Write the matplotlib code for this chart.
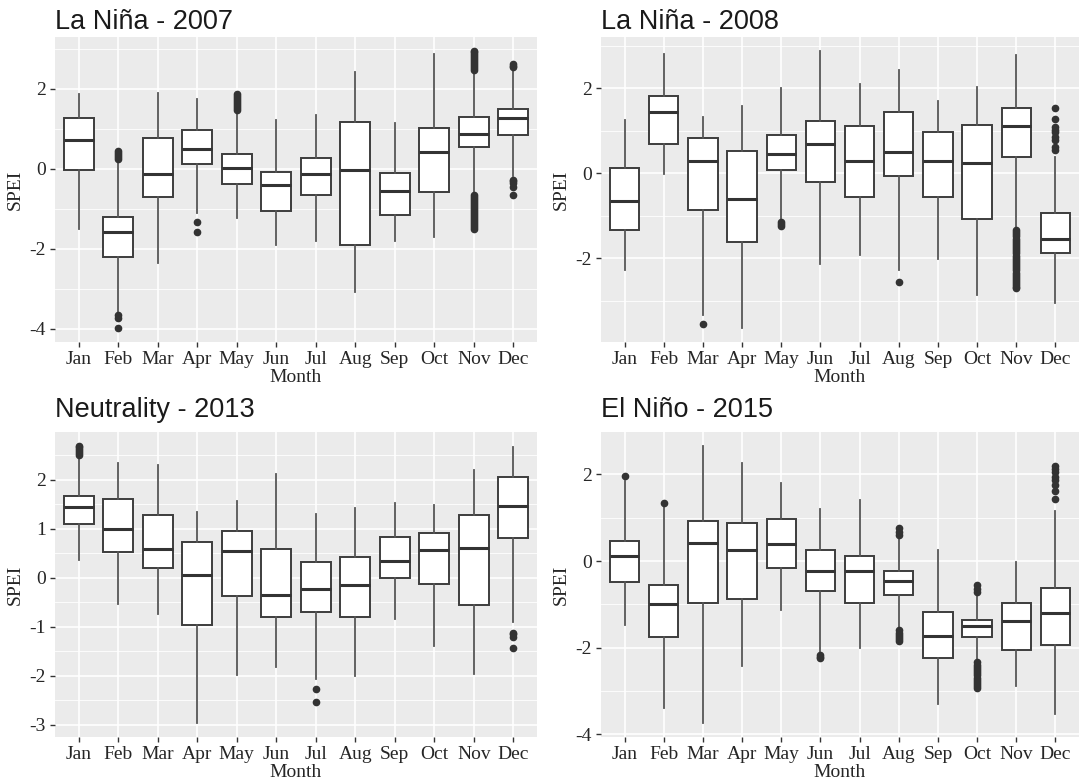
import matplotlib
matplotlib.use("Agg")
import matplotlib.pyplot as plt
from matplotlib.ticker import MultipleLocator

plt.rcParams['axes.unicode_minus'] = False

months = ['Jan', 'Feb', 'Mar', 'Apr', 'May', 'Jun',
          'Jul', 'Aug', 'Sep', 'Oct', 'Nov', 'Dec']

# ---- La Niña 2007
t2007 = 'La Niña - 2007'
lo2007 = [-1.51, -3.58, -2.36, -1.10, -1.22, -1.91, -1.80, -3.08, -1.80, -1.69, -0.60, -0.19]
q1_2007 = [-0.03, -2.19, -0.69, 0.12, -0.37, -1.06, -0.64, -1.90, -1.14, -0.57, 0.54, 0.84]
med2007 = [0.71, -1.57, -0.12, 0.49, 0.02, -0.41, -0.12, -0.04, -0.55, 0.43, 0.88, 1.26]
q3_2007 = [1.28, -1.21, 0.76, 0.97, 0.37, -0.07, 0.26, 1.16, -0.11, 1.02, 1.30, 1.50]
hi2007 = [1.86, 0.22, 1.89, 1.75, 1.42, 1.21, 1.34, 2.43, 1.15, 2.87, 2.45, 2.45]
out2007 = [[], [0.25, 0.30, 0.35, 0.40, 0.45, -3.66, -3.72, -3.98], [], [-1.33, -1.58],
           [1.48, 1.53, 1.58, 1.63, 1.68, 1.73, 1.78, 1.83, 1.86], [], [], [], [], [],
           [2.48, 2.53, 2.58, 2.63, 2.68, 2.73, 2.78, 2.83, 2.88, 2.93, 2.95,
            -0.64, -0.69, -0.74, -0.79, -0.84, -0.89, -0.94, -0.99, -1.04, -1.09,
            -1.14, -1.19, -1.24, -1.29, -1.34, -1.39, -1.44, -1.49],
           [2.54, 2.58, 2.62, -0.27, -0.31, -0.35, -0.45, -0.64]]

# ---- La Niña 2008
t2008 = 'La Niña - 2008'
lo2008 = [-2.27, -0.02, -3.33, -3.65, -1.10, -2.13, -1.92, -2.27, -2.02, -2.86, -1.32, -3.06]
q1_2008 = [-1.33, 0.68, -0.86, -1.62, 0.07, -0.22, -0.56, -0.06, -0.55, -1.08, 0.39, -1.88]
med2008 = [-0.65, 1.45, 0.29, -0.60, 0.45, 0.69, 0.29, 0.49, 0.29, 0.25, 1.12, -1.55]
q3_2008 = [0.12, 1.82, 0.82, 0.53, 0.89, 1.22, 1.10, 1.43, 0.96, 1.14, 1.53, -0.94]
hi2008 = [1.25, 2.81, 1.32, 1.58, 2.00, 2.88, 2.10, 2.42, 1.71, 2.02, 2.78, 0.39]
out2008 = [[], [], [-3.55], [], [-1.14, -1.19, -1.24], [], [], [-2.56], [], [],
           [-1.34, -1.39, -1.44, -1.49, -1.54, -1.59, -1.64, -1.69, -1.74, -1.79,
            -1.84, -1.89, -1.94, -1.99, -2.04, -2.09, -2.14, -2.19, -2.24, -2.29,
            -2.34, -2.39, -2.44, -2.49, -2.54, -2.59, -2.64, -2.69, -2.71],
           [1.53, 1.28, 1.08, 1.02, 0.96, 0.86, 0.78, 0.62, 0.55]]

# ---- Neutrality 2013
t2013 = 'Neutrality - 2013'
lo2013 = [0.35, -0.54, -0.75, -2.97, -1.99, -1.82, -2.07, -2.01, -0.85, -1.39, -1.97, -0.90]
q1_2013 = [1.09, 0.52, 0.20, -0.97, -0.38, -0.80, -0.71, -0.80, 0.00, -0.14, -0.56, 0.81]
med2013 = [1.45, 1.00, 0.59, 0.06, 0.54, -0.35, -0.24, -0.15, 0.33, 0.56, 0.61, 1.46]
q3_2013 = [1.66, 1.61, 1.27, 0.73, 0.96, 0.58, 0.31, 0.43, 0.82, 0.92, 1.27, 2.06]
hi2013 = [2.46, 2.34, 2.29, 1.35, 1.56, 2.12, 1.30, 1.42, 1.53, 1.49, 2.20, 2.67]
out2013 = [[2.50, 2.54, 2.58, 2.62, 2.66, 2.69], [], [], [], [], [], [-2.28, -2.53], [], [], [], [],
           [-1.12, -1.16, -1.21, -1.43]]

# ---- El Niño 2015
t2015 = 'El Niño - 2015'
lo2015 = [-1.47, -3.39, -3.74, -2.43, -1.13, -2.13, -2.01, -1.57, -3.29, -2.32, -2.89, -3.53]
q1_2015 = [-0.49, -1.76, -0.96, -0.87, -0.17, -0.69, -0.97, -0.78, -2.24, -1.75, -2.06, -1.93]
med2015 = [0.12, -1.00, 0.42, 0.25, 0.39, -0.23, -0.23, -0.46, -1.73, -1.49, -1.38, -1.20]
q3_2015 = [0.46, -0.55, 0.92, 0.88, 0.98, 0.25, 0.12, -0.22, -1.17, -1.37, -0.97, -0.61]
hi2015 = [1.85, 1.25, 2.66, 2.27, 1.81, 1.21, 1.42, 0.52, 0.25, -0.78, -0.02, 1.15]
out2015 = [[1.97], [1.34], [], [], [], [-2.17, -2.21, -2.24], [],
           [0.77, 0.68, 0.61, -1.60, -1.65, -1.70, -1.75, -1.80, -1.84],
           [], [-0.55, -0.64, -0.71, -2.34, -2.39, -2.44, -2.49, -2.54, -2.59,
                -2.64, -2.69, -2.74, -2.79, -2.84, -2.89, -2.93], [],
           [2.19, 2.12, 2.05, 1.95, 1.88, 1.75, 1.62, 1.43]]

panels = [
    (t2007, lo2007, q1_2007, med2007, q3_2007, hi2007, out2007, 2, 1),
    (t2008, lo2008, q1_2008, med2008, q3_2008, hi2008, out2008, 2, 1),
    (t2013, lo2013, q1_2013, med2013, q3_2013, hi2013, out2013, 1, 0.5),
    (t2015, lo2015, q1_2015, med2015, q3_2015, hi2015, out2015, 2, 1),
]

W, H = 1079, 784
fig = plt.figure(figsize=(W / 100, H / 100), dpi=100)

# panel boxes in pixels: left, top, right, bottom
rects = [(55, 37, 537, 342), (601, 37, 1079, 342),
         (55, 432, 537, 737), (601, 432, 1079, 737)]
title_base = [29, 29, 417, 417]

serif = 'Liberation Serif'
txt = '#262626'

for (title, lo, q1, med, q3, hi, out, major, minor), (l, t, r, b), tb in zip(panels, rects, title_base):
    ax = fig.add_axes([l / W, 1 - b / H, (r - l) / W, (b - t) / H])
    ax.set_facecolor('#EBEBEB')
    for s in ax.spines.values():
        s.set_visible(False)

    stats = []
    for i in range(12):
        stats.append(dict(whislo=lo[i], q1=q1[i], med=med[i], q3=q3[i],
                          whishi=hi[i], fliers=out[i]))
    ax.bxp(stats, positions=range(1, 13), widths=0.75, patch_artist=True,
           showcaps=False,
           boxprops=dict(facecolor='white', edgecolor='#3d3d3d', linewidth=1.4),
           medianprops=dict(color='#333333', linewidth=2.2),
           whiskerprops=dict(color='#555555', linewidth=1.3),
           flierprops=dict(marker='o', markerfacecolor='#333333',
                           markeredgecolor='#333333', markersize=4.5))

    vals = lo + hi + [v for o in out for v in o]
    y0, y1 = min(vals), max(vals)
    pad = (y1 - y0) * 0.05
    ax.set_ylim(y0 - pad, y1 + pad)
    ax.set_xlim(0.4, 12.6)

    ax.yaxis.set_major_locator(MultipleLocator(major))
    ax.yaxis.set_minor_locator(MultipleLocator(minor))
    ax.set_axisbelow(True)
    ax.grid(which='major', color='white', linewidth=1.2)
    ax.grid(which='minor', axis='y', color='white', linewidth=0.6)

    ax.set_xticks(range(1, 13))
    ax.set_xticklabels(months)
    ax.tick_params(which='major', length=3.5, width=1, color='#333333',
                   labelsize=14, labelcolor=txt, pad=3)
    ax.tick_params(which='minor', length=0)
    for lab in ax.get_xticklabels() + ax.get_yticklabels():
        lab.set_fontfamily(serif)

    ax.set_xlabel('Month', fontsize=14, family=serif, color=txt, labelpad=1)
    ax.set_ylabel('SPEI', fontsize=14, family=serif, color=txt, labelpad=4)

    fig.text(l / W, 1 - tb / H, title, fontsize=19.5, family='Liberation Sans',
             color='#1a1a1a', va='baseline', ha='left')

fig.savefig('out.png', dpi=100)
